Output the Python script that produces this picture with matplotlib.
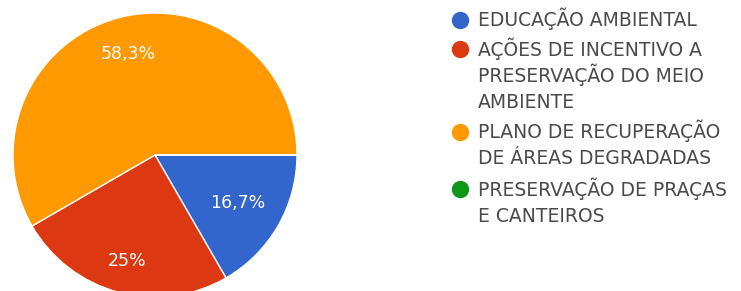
import numpy as np
import matplotlib.pyplot as plt

# Data
categories = [
    "EDUCAÇÃO AMBIENTAL",
    "AÇÕES DE INCENTIVO A\nPRESERVAÇÃO DO MEIO\nAMBIENTE",
    "PLANO DE RECUPERAÇÃO\nDE ÁREAS DEGRADADAS",
    "PRESERVAÇÃO DE PRAÇAS\nE CANTEIROS",
]
counts = [2, 3, 7, 0]
colors = ["#3366CC", "#DC3912", "#FF9900", "#109618"]

W, H = 741, 291
plt.rcParams['font.family'] = ['DejaVu Sans']

fig = plt.figure(figsize=(W / 100, H / 100), dpi=100)
ax = fig.add_axes([0, 0, 1, 1])


def fmt(p):
    if p < 0.05:
        return ''
    s = f"{p:.1f}".replace('.', ',')
    if s.endswith(',0'):
        s = s[:-2]
    return s + '%'


cx, cy, r = 155, H - 155, 142
wedges, texts, autotexts = ax.pie(
    counts, colors=colors, startangle=0, counterclock=False,
    center=(cx, cy), radius=r, frame=True,
    autopct=fmt, pctdistance=0.73,
    wedgeprops=dict(edgecolor='white', linewidth=1),
    textprops=dict(color='white', fontsize=12.5),
)
# label distances from centre, per slice
label_dist = [0.67, 0.77, 0.74, 0.7]
for w, t, d in zip(wedges, autotexts, label_dist):
    mid = np.deg2rad((w.theta1 + w.theta2) / 2)
    t.set_position((cx + d * r * np.cos(mid), cy + d * r * np.sin(mid)))

ax.set_xlim(0, W)
ax.set_ylim(0, H)
ax.set_aspect('equal')
ax.axis('off')

# Legend drawn by hand (pixel positions, y measured from top)
ys = [20, 49, 132, 189]
line_step = 26
for y, label, c in zip(ys, categories, colors):
    fig.lines.append(plt.Line2D([460 / W], [1 - y / H], marker='o', markersize=11.5,
                                color=c, transform=fig.transFigure))
    for i, line in enumerate(label.split('\n')):
        fig.text(478 / W, 1 - (y + 6.5 + i * line_step) / H, line, fontsize=13.5,
                 color='#4a4a4a', va='baseline', ha='left')

fig.savefig('out.png', dpi=100)
